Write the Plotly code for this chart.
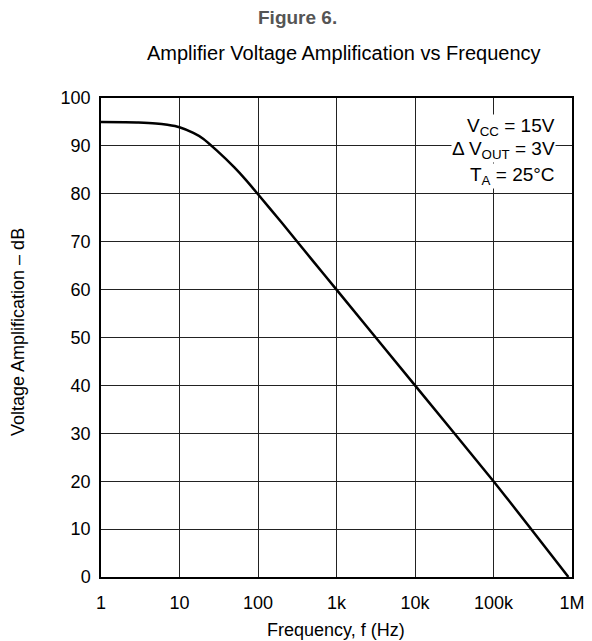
import plotly.graph_objects as go

freq_hz = [1, 2, 3, 5, 7, 10, 15, 20, 30, 50, 70, 100, 200, 500, 1000, 10000, 100000, 900000]
gain_db = [95, 94.95, 94.9, 94.7, 94.4, 93.9, 92.7, 91.5, 89.0, 85.5, 82.9, 79.9, 74.0, 66.0, 60.0, 40.0, 20.0, 0.0]

x_tickvals = [1, 10, 100, 1000, 10000, 100000, 1000000]
x_ticktext = ["1", "10", "100", "1k", "10k", "100k", "1M"]
y_tickvals = [0, 10, 20, 30, 40, 50, 60, 70, 80, 90, 100]

font_family = "Liberation Sans, Arial, sans-serif"

# page offset of the rendered figure (body margin)
OFF = 8
PL, PR, PT, PB = 101, 572, 98, 577  # plot area in screen pixels
W_PLOT = PR - PL
H_PLOT = PB - PT


def px(x):
    return (x - PL) / W_PLOT


def py(y):
    return (PB - y) / H_PLOT


fig = go.Figure()
fig.add_trace(go.Scatter(
    x=freq_hz, y=gain_db, mode="lines",
    line=dict(color="black", width=2.5, shape="spline", smoothing=0.6),
    showlegend=False, hoverinfo="skip"))

fig.update_layout(
    width=592, height=641,
    margin=dict(l=PL - OFF, r=592 - (PR - OFF), t=PT - OFF, b=641 - (PB - OFF)),
    paper_bgcolor="white", plot_bgcolor="white",
    font=dict(family=font_family, size=18, color="black"),
    xaxis=dict(type="log", range=[0, 6], tickvals=x_tickvals, ticktext=x_ticktext,
               showgrid=True, gridcolor="#222222", gridwidth=1,
               showline=True, linecolor="black", linewidth=1.5, mirror=True,
               ticks="", zeroline=False, ticklabelstandoff=9,
               tickfont=dict(size=18)),
    yaxis=dict(range=[0, 100], tickvals=y_tickvals,
               showgrid=True, gridcolor="#222222", gridwidth=1,
               showline=True, linecolor="black", linewidth=1.5, mirror=True,
               ticks="", zeroline=False, ticklabelstandoff=5,
               tickfont=dict(size=18)),
    annotations=[
        dict(text="<b>Figure 6.</b>", xref="paper", yref="paper",
             x=px(297), y=py(17), xanchor="center", yanchor="middle",
             showarrow=False, font=dict(size=19, color="#555555")),
        dict(text="Amplifier Voltage Amplification vs Frequency", xref="paper", yref="paper",
             x=px(344), y=py(53), xanchor="center", yanchor="middle",
             showarrow=False, font=dict(size=20, color="black")),
        dict(text="Frequency, f (Hz)", xref="paper", yref="paper",
             x=px(336), y=py(630), xanchor="center", yanchor="middle",
             showarrow=False, font=dict(size=18)),
        dict(text="Voltage Amplification – dB", xref="paper", yref="paper",
             x=px(18), y=py(332), xanchor="center", yanchor="middle", textangle=-90,
             showarrow=False, font=dict(size=18)),
        dict(text="V<sub>CC</sub> = 15V", xref="paper", yref="paper",
             x=px(556), y=py(127), xanchor="right", yanchor="middle",
             showarrow=False, bgcolor="white", borderpad=0, font=dict(size=19)),
        dict(text="Δ V<sub>OUT</sub> = 3V", xref="paper", yref="paper",
             x=px(556), y=py(150), xanchor="right", yanchor="middle",
             showarrow=False, bgcolor="white", borderpad=0, font=dict(size=19)),
        dict(text="T<sub>A</sub> = 25°C", xref="paper", yref="paper",
             x=px(556), y=py(176), xanchor="right", yanchor="middle",
             showarrow=False, bgcolor="white", borderpad=0, font=dict(size=19)),
    ],
)

fig.write_html("out.html")
